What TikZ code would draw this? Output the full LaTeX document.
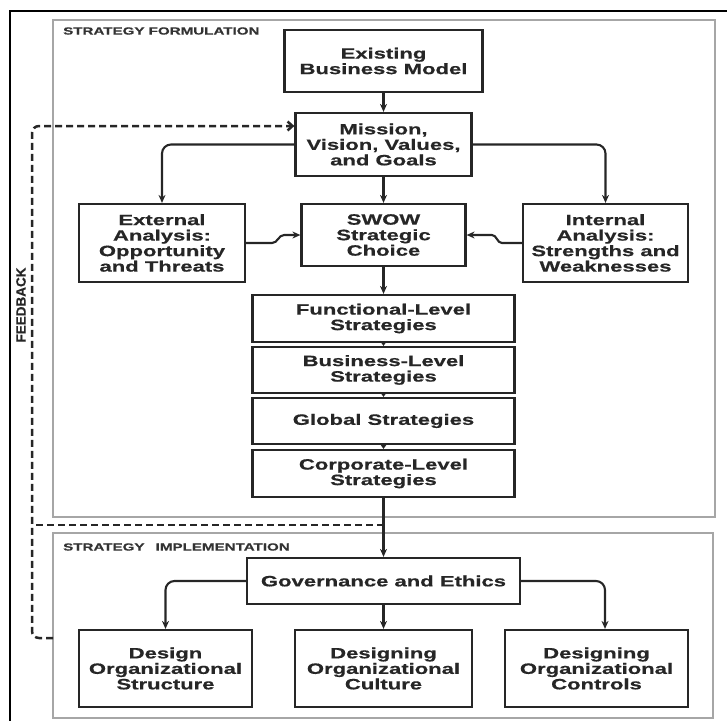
\documentclass[tikz,border=0pt]{standalone}
\usepackage{fontspec}
\setmainfont{Liberation Sans}[FakeStretch=1.47, BoldFeatures={FakeBold=0.6}]
\newfontfamily\fbfont{Liberation Sans}[BoldFeatures={FakeBold=0.5}]
\usetikzlibrary{arrows.meta}
\begin{document}
\begin{tikzpicture}[x=1pt,y=-1pt,
  box/.style={draw=black!85, line width=2.2pt, align=center, inner sep=0pt,
    font=\bfseries\fontsize{15}{15.5}\selectfont, text=black!85},
  conn/.style={line width=2.1pt, draw=black!85, -{Stealth[length=8pt,width=7pt]}},
  smallconn/.style={line width=1.5pt, draw=black!85, -{Stealth[length=5pt,width=7pt]}},
  fb/.style={line width=2.5pt, draw=black!85, dash pattern=on 7pt off 4pt},
  grayframe/.style={draw=black!35, line width=1.6pt},
  lbl/.style={font=\bfseries\fontsize{10.3}{12}\selectfont, text=black!80, anchor=west, inner sep=0pt},
]
\useasboundingbox (0,0) rectangle (727,720);
% outer frame
\draw[line width=2.5pt] (10,725) -- (10,11) -- (732,11);
% section frames
\draw[grayframe] (53,20) rectangle (715,517);
\draw[grayframe] (53,533) rectangle (713,718);
\node[lbl] (lform) at (63,31) {STRATEGY FORMULATION};
\node[lbl] (limpl) at (63,547) {STRATEGY\hspace{7pt} IMPLEMENTATION};
% boxes
\node[box, minimum width=198pt, minimum height=62pt] (exist) at (383.5,61) {Existing\\Business Model};
\node[box, minimum width=176pt, minimum height=63pt] (mission) at (383.5,144.5) {Mission,\\Vision, Values,\\and Goals};
\node[box, minimum width=166pt, minimum height=78pt] (ext) at (162,243) {External\\Analysis:\\Opportunity\\and Threats};
\node[box, minimum width=164pt, minimum height=62pt] (swow) at (383.5,235) {SWOW\\Strategic\\Choice};
\node[box, minimum width=165pt, minimum height=78pt] (int) at (605.5,243) {Internal\\Analysis:\\Strengths and\\Weaknesses};
\node[box, minimum width=262pt, minimum height=47pt] (func) at (383.5,318.5) {Functional-Level\\Strategies};
\node[box, minimum width=262pt, minimum height=46pt] (bus) at (383.5,370) {Business-Level\\Strategies};
\node[box, minimum width=262pt, minimum height=46pt] (glob) at (383.5,421) {Global Strategies};
\node[box, minimum width=262pt, minimum height=47pt] (corp) at (383.5,473.5) {Corporate-Level\\Strategies};
\node[box, minimum width=273pt, minimum height=46pt] (gov) at (383.5,581) {Governance and Ethics};
\node[box, minimum width=173pt, minimum height=77pt] (struct) at (165.5,668.5) {Design\\Organizational\\Structure};
\node[box, minimum width=177pt, minimum height=77pt] (cult) at (383.5,668.5) {Designing\\Organizational\\Culture};
\node[box, minimum width=183pt, minimum height=77pt] (ctrl) at (596.5,668.5) {Designing\\Organizational\\Controls};
% connectors
\draw[conn] (exist.south) -- (mission.north);
\draw[conn, rounded corners=9pt] (mission.west) -| (ext.north);
\draw[conn, rounded corners=9pt] (mission.east) -| (int.north);
\draw[conn] (mission.south) -- (swow.north);
\draw[conn] (ext.east) -- ++(26,0) to[out=0,in=180] ++(12,-8) -- (swow.west);
\draw[conn] (int.west) -- ++(-20,0) to[out=180,in=0] ++(-10,-8) -- (swow.east);
\draw[conn] (swow.south) -- (func.north);
\draw[smallconn] (func.south) -- (bus.north);
\draw[smallconn] (bus.south) -- (glob.north);
\draw[smallconn] (glob.south) -- (corp.north);
\draw[conn] (corp.south) -- (gov.north);
\draw[conn, rounded corners=9pt] (gov.west) -| (struct.north);
\draw[conn] (gov.south) -- (cult.north);
\draw[conn, rounded corners=9pt] (gov.east) -| ([xshift=8.5pt]ctrl.north);
% feedback
\coordinate (fbjoin) at (383.5,525);
\coordinate (fbleft) at (32,525);
\coordinate (fbstart) at (53,638);
\coordinate (fbtopy) at (0,126);
\draw[fb] (fbjoin) -- (fbleft);
\draw[fb, rounded corners=7pt, -{Straight Barb[length=5pt,width=9pt]}] (fbstart) -- (32,638) -- (32,126) -- (mission.west |- fbtopy);
\node[font=\fbfont\bfseries\fontsize{13.5}{13.5}\selectfont, text=black!85, rotate=90, inner sep=0pt] (fblabel) at (21,305) {FEEDBACK};
\end{tikzpicture}
\end{document}
